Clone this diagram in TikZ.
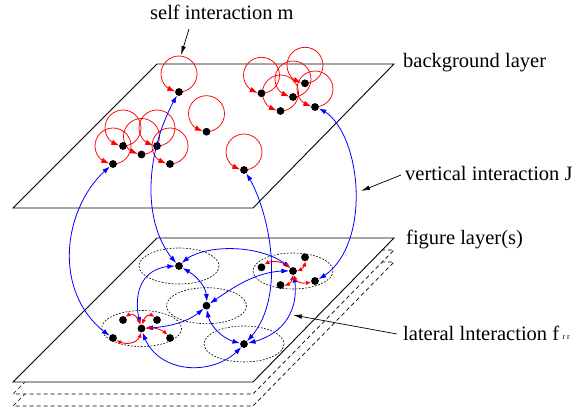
\documentclass[tikz,border=0pt]{standalone}
\usepackage{fontspec}
\setmainfont{Liberation Serif}
\usetikzlibrary{arrows.meta,bending}
\pgfdeclarelayer{bg}
\pgfsetlayers{bg,main}
\begin{document}
\begin{tikzpicture}[x=1pt,y=-1pt,
  plane/.style={draw=black,line width=0.9pt,fill=white,line join=miter},
  dplane/.style={draw=black,line width=0.7pt,fill=white,dash pattern=on 4pt off 3pt},
  dot/.style={circle,fill=black,inner sep=0pt,minimum size=7.8pt},
  selfloop/.style={red,line width=0.75pt,-{Latex[length=8pt,width=5.5pt]}},
  blueline/.style={blue,line width=0.8pt,{Latex[length=7.5pt,width=5pt]}-{Latex[length=7.5pt,width=5pt]}},
  redlat/.style={red,line width=0.9pt,{Latex[length=5pt,width=4.5pt]}-{Latex[length=5pt,width=4.5pt]}},
  field/.style={draw=black,line width=0.6pt,dash pattern=on 1.8pt off 1.5pt},
  lbl/.style={font=\fontsize{20.5}{24}\selectfont,inner sep=0pt,anchor=base west},
  pointer/.style={black,line width=0.7pt,-{Latex[length=9pt,width=4.5pt]}}
]
\useasboundingbox (0,0) rectangle (582,412);

% ---------- background layer dots ----------
\node[dot] (A1) at (179,92) {};
\node[dot] (A2) at (206.5,131.7) {};
\node[dot] (C)  at (244,170) {};
\node[dot] (B1) at (123,146) {};
\node[dot] (B2) at (141.5,154.5) {};
\node[dot] (B3) at (157,146) {};
\node[dot] (B4) at (113,164) {};
\node[dot] (B5) at (170,164) {};
\node[dot] (T1) at (261.5,93.3) {};
\node[dot] (T2) at (280.5,111) {};
\node[dot] (T3) at (293,97) {};
\node[dot] (T4) at (305,83.3) {};
\node[dot] (T5) at (315,107) {};

% ---------- figure layer dots ----------
\node[dot] (F1) at (179,266) {};
\node[dot] (F2) at (206.5,305.7) {};
\node[dot] (F3) at (244,344) {};
\node[dot] (L0) at (141.5,328.5) {};
\node[dot] (L1) at (123,320) {};
\node[dot] (L2) at (157,320) {};
\node[dot] (L3) at (113,338) {};
\node[dot] (L4) at (170,338) {};
\node[dot] (R0) at (293,271) {};
\node[dot] (R1) at (261.5,267.3) {};
\node[dot] (R2) at (305,257.3) {};
\node[dot] (R3) at (280.5,285) {};
\node[dot] (R4) at (315,281) {};

\begin{pgfonlayer}{bg}
  % stacked figure layers
  \foreach \dy in {24,12}
    \draw[dplane,shift={(0,\dy)}] (157,238) -- (394,238) -- (253,382) -- (13,382) -- cycle;
  \draw[plane] (157,238) -- (394,238) -- (253,382) -- (13,382) -- cycle;
  % background layer
  \draw[plane] (157,64) -- (394,64) -- (253,208) -- (13,208) -- cycle;
  % receptive fields
  \foreach \n in {F1,F2,F3,L0,R0}
    \draw[field] (\n) ellipse [x radius=40, y radius=18];
  % self interactions
  \foreach \n in {A1,A2,C,B1,B2,B3,B4,B5,T1,T2,T3,T4,T5}
    \draw[selfloop] (\n.center) arc[start angle=90, end angle=-258, radius=18];
\end{pgfonlayer}

% ---------- vertical interactions ----------
\draw[blueline] (B4) .. controls (62,205) and (50,295) .. (L3);
\draw[blueline] (A1) .. controls (145,150) and (140,225) .. (F1);
\draw[blueline] (C)  .. controls (268,205) and (290,300) .. (F3);
\draw[blueline] (T5) .. controls (362,125) and (375,250) .. (R4);

% ---------- lateral interactions (blue) ----------
\draw[blueline] (F1) .. controls (200,243) and (265,243) .. (R0);
\draw[blueline] (F1) .. controls (140,266) and (132,295) .. (L0);
\draw[blueline] (F1) .. controls (198,276) and (208,288) .. (F2);
\draw[blueline] (F2) .. controls (230,290) and (255,270) .. (R0);
\draw[blueline] (F2) .. controls (208,325) and (222,340) .. (F3);
\draw[blueline] (L0) .. controls (170,327) and (190,322) .. (F2);
\draw[blueline] (L0) .. controls (155,375) and (215,378) .. (F3);
\draw[blueline] (R0) .. controls (300,305) and (288,335) .. (F3);

% ---------- lateral interactions (red, within a group) ----------
\draw[redlat] (L1) .. controls (130,311) and (138,315) .. (L0);
\draw[redlat] (L0) .. controls (144,315) and (151,312) .. (L2);
\draw[redlat] (L0) .. controls (140,344) and (125,346) .. (L3);
\draw[redlat] (L0) .. controls (153,327) and (163,329) .. (L4);
\draw[redlat] (R1) .. controls (270,259) and (284,261) .. (R0);
\draw[redlat] (R0) .. controls (301,271) and (306,266) .. (R2);
\draw[redlat] (R0) .. controls (293,283) and (287,286) .. (R3);
\draw[redlat] (R0) .. controls (295,284) and (304,284) .. (R4);

% ---------- labels ----------
\node[lbl] (tself) at (150,20) {self interaction m};
\node[lbl] (tbg)   at (403,68) {background layer};
\node[lbl] (tvert) at (405,180) {vertical interaction J};
\node[lbl] (tfig)  at (406,244) {figure layer(s)};
\node[lbl] (tlat)  at (403,340) {lateral lnteraction f\,{\fontsize{8}{9}\selectfont\raisebox{0.5pt}{r r}}};

\coordinate (pself0) at (189,29);
\coordinate (pself1) at (181,55);
\coordinate (pvert0) at (401,175);
\coordinate (pvert1) at (361,191);
\coordinate (plat0)  at (397,334);
\coordinate (plat1)  at (293,315);
\draw[pointer] (pself0) -- (pself1);
\draw[pointer] (pvert0) -- (pvert1);
\draw[pointer] (plat0) -- (plat1);
\end{tikzpicture}
\end{document}
